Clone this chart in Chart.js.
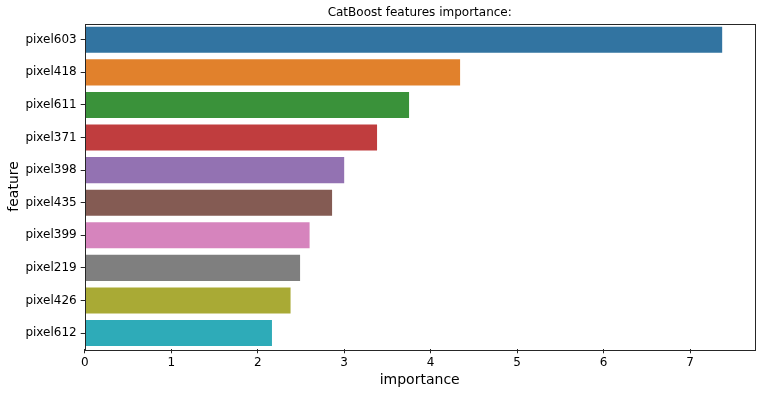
<!DOCTYPE html>
<html lang="en">
<head>
  <meta charset="UTF-8" />
  <title>CatBoost features importance</title>
  <script src="https://cdn.jsdelivr.net/npm/chart.js@4.4.0/dist/chart.umd.min.js"></script>
  <style>
    html, body { margin: 0; padding: 0; background: #fff; }
    #wrap { width: 764px; height: 394px; }
  </style>
</head>
<body>
  <div id="wrap"><canvas id="myChart" width="764" height="394"></canvas></div>

  <script>
    const features = ["pixel603", "pixel418", "pixel611", "pixel371", "pixel398",
                      "pixel435", "pixel399", "pixel219", "pixel426", "pixel612"];
    const importance = [7.37, 4.34, 3.75, 3.38, 3.00, 2.86, 2.60, 2.49, 2.38, 2.165];
    const barColors = ["#3274a1", "#e1812c", "#3a923a", "#c03d3e", "#9372b2",
                       "#845b53", "#d684bd", "#7f7f7f", "#a9aa35", "#2eabb8"];
    const xTicksMax = 7.746;
    const chartTitle = "CatBoost features importance:";

    const FONT = "'DejaVu Sans', sans-serif";

    // frame around the plot area (matplotlib spines) + title centred over the axes
    const frame = {
      id: "frame",
      afterDraw(chart) {
        const { ctx, chartArea: a } = chart;
        ctx.save();
        ctx.strokeStyle = "#262626";
        ctx.lineWidth = 1;
        ctx.strokeRect(Math.round(a.left) + 0.5, Math.round(a.top) + 0.5,
                       Math.round(a.right - a.left), Math.round(a.bottom - a.top));
        ctx.fillStyle = "#000";
        ctx.font = "12px " + FONT;
        ctx.textAlign = "center";
        ctx.textBaseline = "middle";
        ctx.fillText(chartTitle, (a.left + a.right) / 2, 12.5);
        ctx.restore();
      }
    };

    new Chart(document.getElementById("myChart"), {
      type: "bar",
      data: {
        labels: features,
        datasets: [{
          data: importance,
          backgroundColor: barColors,
          borderWidth: 0,
          categoryPercentage: 1,
          barPercentage: 0.8
        }]
      },
      plugins: [frame],
      options: {
        indexAxis: "y",
        responsive: false,
        animation: false,
        events: [],
        layout: { padding: { left: 0, right: 9.3, top: 23.5, bottom: 0 } },
        plugins: {
          legend: { display: false },
          tooltip: { enabled: false },
          title: { display: false }
        },
        scales: {
          x: {
            min: 0,
            max: xTicksMax,
            afterFit(scale) { scale.height = 44.7; },
            border: { display: false },
            grid: { drawOnChartArea: false, drawTicks: true, tickLength: 4, color: "#262626" },
            ticks: {
              stepSize: 1,
              includeBounds: false,
              padding: 2,
              color: "#000",
              font: { family: FONT, size: 12 }
            },
            title: {
              display: true,
              text: "importance",
              color: "#000",
              font: { family: FONT, size: 14 },
              padding: { top: 0, bottom: 5.6 }
            }
          },
          y: {
            afterFit(scale) { scale.width = 84.7; },
            border: { display: false },
            grid: { offset: false, drawOnChartArea: false, drawTicks: true, tickLength: 4, color: "#262626" },
            ticks: {
              padding: 4,
              color: "#000",
              font: { family: FONT, size: 12 }
            },
            title: {
              display: true,
              text: "feature",
              color: "#000",
              font: { family: FONT, size: 14 },
              padding: { top: 5.6, bottom: 0 }
            }
          }
        }
      }
    });
  </script>
</body>
</html>
